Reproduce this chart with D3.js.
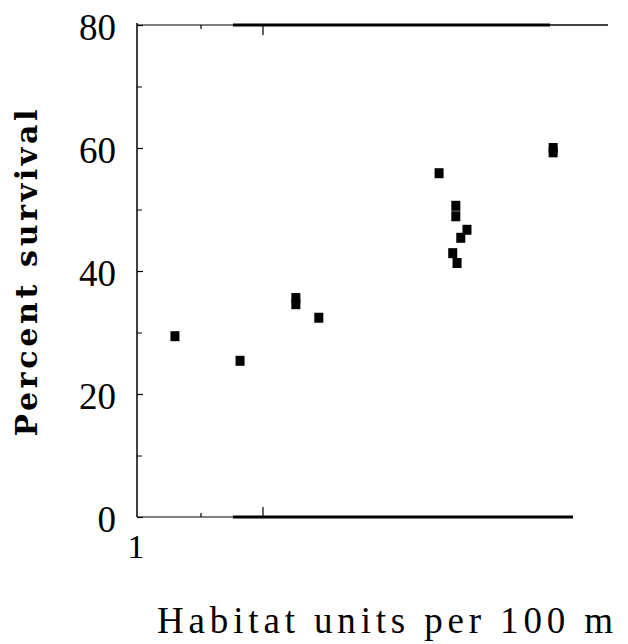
<!DOCTYPE html>
<html>
<head>
<meta charset="utf-8">
<script src="https://cdn.jsdelivr.net/npm/d3@7"></script>
<style>
  body { margin: 0; background: #fff; }
</style>
</head>
<body>
<div id="chart"></div>
<script>
// Habitat units per 100 m vs percent survival
const habitatUnits = [1.58, 2.63, 3.53, 3.53, 3.90, 5.84, 6.11, 6.11, 6.29, 6.19, 6.06, 6.13, 7.68, 7.68];
const survival     = [29.4, 25.4, 35.6, 34.6, 32.4, 55.9, 50.6, 48.9, 46.7, 45.4, 42.9, 41.3, 60.0, 59.3];

const yTicks = [0, 20, 40, 60, 80];
const yMinorTicks = [10, 30, 50, 70];
const xTickLabels = [1];
const xMinorTicks = [2, 3];

const width = 628, height = 644;

const svg = d3.select("#chart")
    .append("svg")
    .attr("width", width)
    .attr("height", height);

const x = d3.scaleLinear().domain([1, 8]).range([139, 573]);
const y = d3.scaleLinear().domain([0, 80]).range([517, 25]);

// left axis, ticks pointing inward
const yAxis = svg.append("g")
    .attr("transform", "translate(137,0)")
    .call(d3.axisLeft(y).tickValues(yTicks).tickSize(-6).tickPadding(21).tickFormat(d3.format("d")));
yAxis.select(".domain").attr("stroke-width", 1.5).attr("d", `M0,${y(80) - 2}V${y(0)}`);
yAxis.selectAll("line").attr("stroke-width", 1.2);
yAxis.selectAll("text")
    .attr("dy", "0.40em")
    .style("font-family", "'Liberation Serif', 'Times New Roman', serif")
    .style("font-size", "37px")
    .attr("fill", "#000");

svg.append("g")
    .attr("transform", "translate(137,0)")
    .call(d3.axisLeft(y).tickValues(yMinorTicks).tickSize(-5).tickFormat(""))
    .call(g => g.select(".domain").remove());

// bottom axis: thin part then thick part
svg.append("line")
    .attr("x1", 137).attr("x2", 233)
    .attr("y1", y(0)).attr("y2", y(0))
    .attr("stroke", "#000").attr("stroke-width", 1.2);
svg.append("line")
    .attr("x1", 233).attr("x2", x(8))
    .attr("y1", y(0)).attr("y2", y(0))
    .attr("stroke", "#000").attr("stroke-width", 3);

svg.selectAll(".xtick")
    .data(xMinorTicks)
    .enter().append("line")
    .attr("class", "xtick")
    .attr("x1", d => x(d)).attr("x2", d => x(d))
    .attr("y1", y(0)).attr("y2", (d, i) => y(0) - (i === 0 ? 4 : 10))
    .attr("stroke", "#000").attr("stroke-width", 1.2);

svg.selectAll(".xlabel")
    .data(xTickLabels)
    .enter().append("text")
    .attr("class", "xlabel")
    .attr("x", d => x(d) - 3)
    .attr("y", 558)
    .attr("text-anchor", "middle")
    .style("font-family", "'Liberation Serif', 'Times New Roman', serif")
    .style("font-size", "34px")
    .text(d => d);

// top frame line
svg.append("line")
    .attr("x1", 137).attr("x2", 233)
    .attr("y1", y(80)).attr("y2", y(80))
    .attr("stroke", "#000").attr("stroke-width", 1.2);
svg.append("line")
    .attr("x1", 233).attr("x2", 550)
    .attr("y1", y(80)).attr("y2", y(80))
    .attr("stroke", "#000").attr("stroke-width", 3);
svg.append("line")
    .attr("x1", 550).attr("x2", 608)
    .attr("y1", y(80)).attr("y2", y(80))
    .attr("stroke", "#000").attr("stroke-width", 1.5);

svg.selectAll(".ttick")
    .data(xMinorTicks)
    .enter().append("line")
    .attr("class", "ttick")
    .attr("x1", d => x(d)).attr("x2", d => x(d))
    .attr("y1", y(80)).attr("y2", (d, i) => y(80) + (i === 0 ? 4 : 10))
    .attr("stroke", "#000").attr("stroke-width", 1.2);

// points
svg.selectAll(".pt")
    .data(habitatUnits.map((d, i) => [d, survival[i]]))
    .enter().append("rect")
    .attr("class", "pt")
    .attr("x", d => x(d[0]) - 4.5)
    .attr("y", d => y(d[1]) - 5)
    .attr("width", 9)
    .attr("height", 10)
    .attr("fill", "#000");

// axis titles
svg.append("text")
    .attr("transform", "translate(37,273) rotate(-90)")
    .attr("text-anchor", "middle")
    .attr("textLength", 327)
    .attr("lengthAdjust", "spacing")
    .style("font-family", "'DejaVu Serif', serif")
    .style("font-weight", "bold")
    .style("font-size", "30px")
    .text("Percent survival");

svg.append("text")
    .attr("x", 385)
    .attr("y", 633)
    .attr("text-anchor", "middle")
    .attr("textLength", 456)
    .attr("lengthAdjust", "spacing")
    .style("font-family", "'Liberation Serif', 'Times New Roman', serif")
    .style("font-size", "37px")
    .text("Habitat units per 100 m");
</script>
</body>
</html>
